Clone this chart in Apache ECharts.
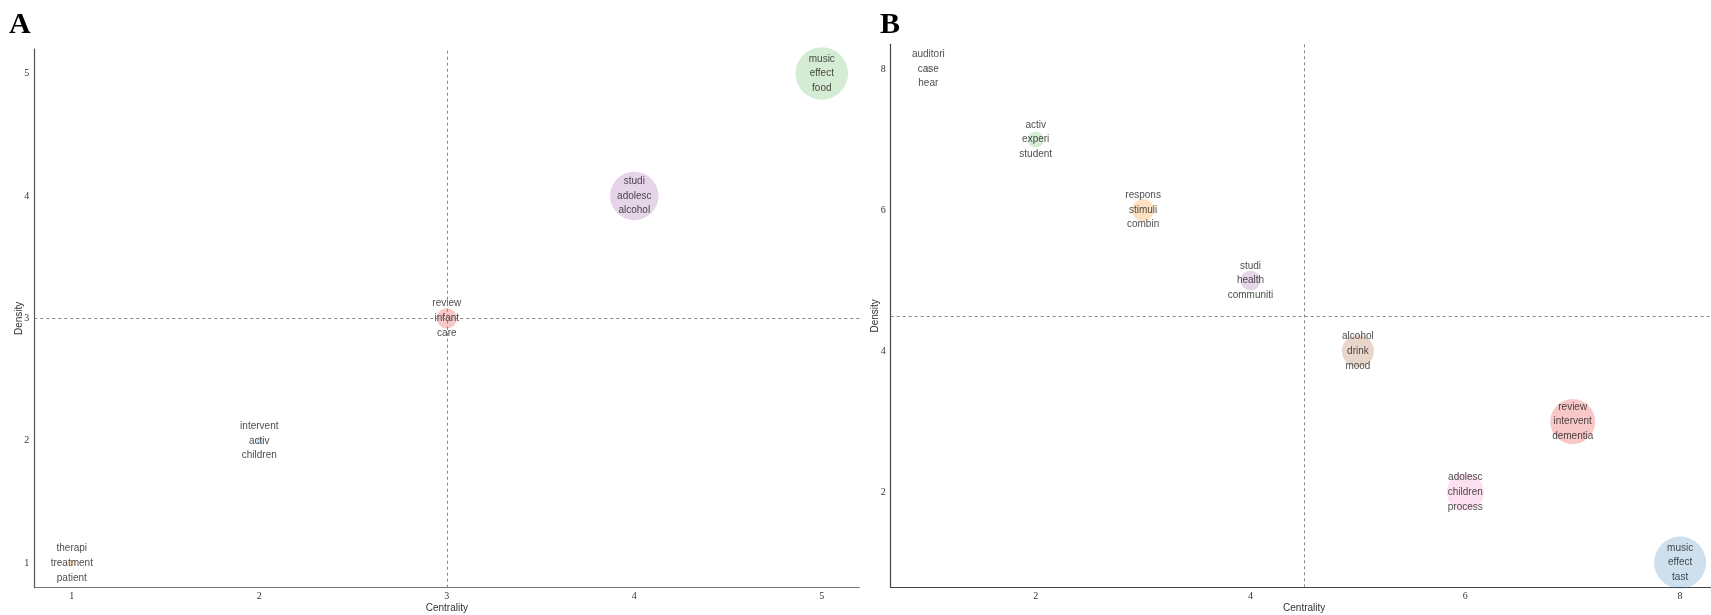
<!DOCTYPE html>
<html>
<head>
<meta charset="utf-8">
<script src="https://cdn.jsdelivr.net/npm/echarts@6/dist/echarts.min.js"></script>
<style>
html,body{margin:0;padding:0;background:#fff;}
#chart{width:1711px;height:615px;}
</style>
</head>
<body>
<div id="chart"></div>
<script>
// ---- Panel A data ----
const wordsA = [
  ['therapi','treatment','patient'],
  ['intervent','activ','children'],
  ['review','infant','care'],
  ['studi','adolesc','alcohol'],
  ['music','effect','food']
];
const centralityA = [1, 2, 3, 4, 5];
const densityA = [1, 2, 3, 4, 5];
const freqA = [4, 5, 40, 230, 270];
const ticksA = [1, 2, 3, 4, 5];

// ---- Panel B data ----
const wordsB = [
  ['auditori','case','hear'],
  ['activ','experi','student'],
  ['respons','stimuli','combin'],
  ['studi','health','communiti'],
  ['alcohol','drink','mood'],
  ['adolesc','children','process'],
  ['review','intervent','dementia'],
  ['music','effect','tast']
];
const centralityB = [1, 2, 3, 4, 5, 6, 7, 8];
const densityB = [8, 7, 6, 5, 4, 2, 3, 1];
const freqB = [5, 25, 47, 39, 100, 134, 198, 264];
const ticksBx = [2, 4, 6, 8];
const ticksBy = [2, 4, 6, 8];

// ---- styles ----
const colorsA = ['rgba(255,127,0,0.3)','rgba(55,126,184,0.3)','rgba(228,26,28,0.3)','rgba(152,78,163,0.3)','rgba(77,175,74,0.3)'];
const colorsB = ['rgba(153,153,153,0.3)','rgba(77,175,74,0.3)','rgba(255,127,0,0.3)','rgba(152,78,163,0.3)','rgba(166,86,40,0.3)','rgba(247,129,191,0.3)','rgba(228,26,28,0.3)','rgba(55,126,184,0.3)'];

const mean = a => a.reduce((s, v) => s + v, 0) / a.length;
const pad = (arr) => { const mn = Math.min(...arr), mx = Math.max(...arr), d = (mx - mn) * 0.05; return [mn - d, mx + d]; };
const sizeOf = f => 3.2 * Math.sqrt(f);

function buildData(cx, dy, freq, words, colors) {
  return cx.map((c, i) => ({
    value: [c, dy[i], freq[i]],
    name: words[i].join('\n'),
    itemStyle: { color: colors[i] }
  }));
}

const labelStyle = {
  show: true, position: 'inside', formatter: p => p.name,
  fontFamily: 'Liberation Sans, Arial, sans-serif', fontSize: 10, lineHeight: 14.7, color: '#1a1a1a'
};

function xAx(gi, range, ticks, lineColor) {
  return {
    type: 'value', gridIndex: gi, min: range[0], max: range[1],
    name: 'Centrality', nameLocation: 'middle', nameGap: 16, nameMoveOverlap: false,
    nameTextStyle: { fontFamily: 'Liberation Sans, Arial, sans-serif', fontSize: 10, color: '#333' },
    axisLine: { show: true, lineStyle: { color: lineColor, width: 1.2 } },
    axisTick: { show: false },
    splitLine: { show: false },
    axisLabel: { customValues: ticks, margin: 4, fontFamily: 'Liberation Serif, Times New Roman, serif', fontSize: 10, color: '#333' }
  };
}
function yAx(gi, range, ticks, lineColor) {
  return {
    type: 'value', gridIndex: gi, min: range[0], max: range[1],
    name: 'Density', nameLocation: 'middle', nameGap: 10, nameRotate: 90, nameMoveOverlap: false,
    nameTextStyle: { fontFamily: 'Liberation Sans, Arial, sans-serif', fontSize: 10, color: '#333' },
    axisLine: { show: true, lineStyle: { color: lineColor, width: 1.2 } },
    axisTick: { show: false },
    splitLine: { show: false },
    axisLabel: { customValues: ticks, margin: 5, fontFamily: 'Liberation Serif, Times New Roman, serif', fontSize: 10, color: '#333' }
  };
}

function meanLines(cx, dy) {
  return {
    silent: true, symbol: 'none', label: { show: false },
    lineStyle: { color: '#888', type: [3, 3], width: 1 },
    data: [{ xAxis: mean(cx) }, { yAxis: mean(dy) }]
  };
}

const chart = echarts.init(document.getElementById('chart'), null, { renderer: 'canvas' });
chart.setOption({
  animation: false,
  backgroundColor: '#fff',
  grid: [
    { left: 34.3, top: 49, width: 825, height: 538.7, containLabel: false, outerBoundsMode: 'none' },
    { left: 890.7, top: 44.3, width: 827, height: 543, containLabel: false, outerBoundsMode: 'none' }
  ],
  xAxis: [xAx(0, pad(centralityA), ticksA, '#777'), xAx(1, pad(centralityB), ticksBx, '#444')],
  yAxis: [yAx(0, pad(densityA), ticksA, '#555'), yAx(1, pad(densityB), ticksBy, '#444')],
  graphic: [
    { type: 'text', left: 9, top: 10, style: { text: 'A', font: 'bold 30px "Liberation Serif", "Times New Roman", serif', fill: '#000' } },
    { type: 'text', left: 880, top: 10, style: { text: 'B', font: 'bold 30px "Liberation Serif", "Times New Roman", serif', fill: '#000' } }
  ],
  series: [
    {
      type: 'scatter', xAxisIndex: 0, yAxisIndex: 0,
      data: buildData(centralityA, densityA, freqA, wordsA, colorsA),
      symbolSize: v => sizeOf(v[2]),
      label: labelStyle,
      markLine: meanLines(centralityA, densityA),
      z: 3
    },
    {
      type: 'scatter', xAxisIndex: 1, yAxisIndex: 1,
      data: buildData(centralityB, densityB, freqB, wordsB, colorsB),
      symbolSize: v => sizeOf(v[2]),
      label: labelStyle,
      markLine: meanLines(centralityB, densityB),
      z: 3
    }
  ]
});
</script>
</body>
</html>
